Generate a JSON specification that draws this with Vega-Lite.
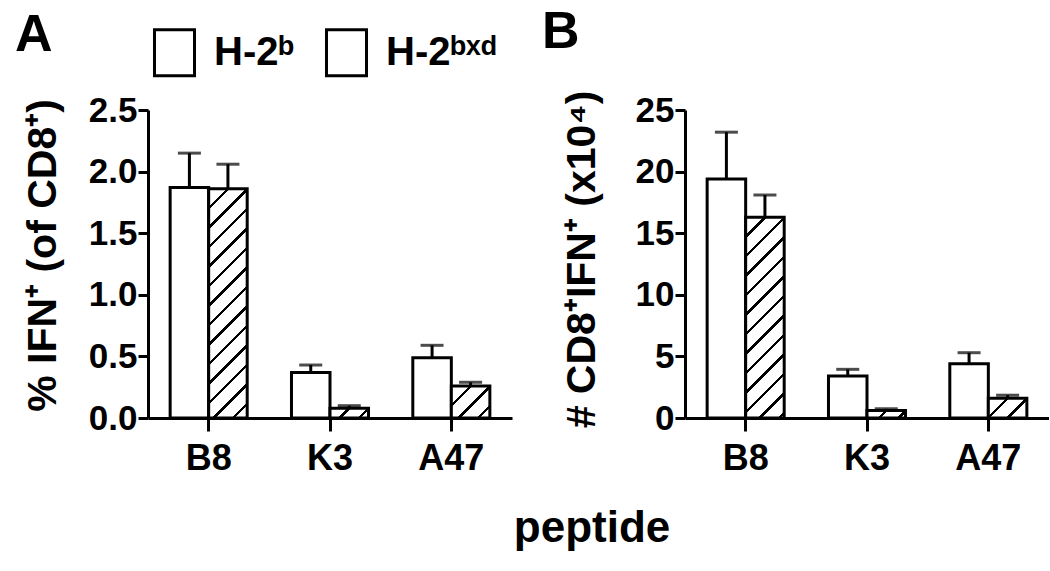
{
  "$schema": "https://vega.github.io/schema/vega-lite/v6.json",
  "background": "white",
  "autosize": {"type": "pad"},
  "padding": {"left": 15, "top": 6, "right": 0, "bottom": 0},
  "datasets": {
    "A": [
      {"peptide": "B8", "strain": "H-2ᵇ", "mean": 1.87, "upper": 2.15},
      {"peptide": "B8", "strain": "H-2ᵇˣᵈ", "mean": 1.86, "upper": 2.06},
      {"peptide": "K3", "strain": "H-2ᵇ", "mean": 0.37, "upper": 0.43},
      {"peptide": "K3", "strain": "H-2ᵇˣᵈ", "mean": 0.08, "upper": 0.1},
      {"peptide": "A47", "strain": "H-2ᵇ", "mean": 0.49, "upper": 0.59},
      {"peptide": "A47", "strain": "H-2ᵇˣᵈ", "mean": 0.26, "upper": 0.29}
    ],
    "B": [
      {"peptide": "B8", "strain": "H-2ᵇ", "mean": 19.4, "upper": 23.2},
      {"peptide": "B8", "strain": "H-2ᵇˣᵈ", "mean": 16.3, "upper": 18.1},
      {"peptide": "K3", "strain": "H-2ᵇ", "mean": 3.4, "upper": 3.95},
      {"peptide": "K3", "strain": "H-2ᵇˣᵈ", "mean": 0.6, "upper": 0.75},
      {"peptide": "A47", "strain": "H-2ᵇ", "mean": 4.4, "upper": 5.3},
      {"peptide": "A47", "strain": "H-2ᵇˣᵈ", "mean": 1.6, "upper": 1.85}
    ]
  },
  "config": {
    "font": "Liberation Sans",
    "view": {"stroke": null},
    "axis": {"domainColor": "black", "domainWidth": 3, "tickColor": "black", "tickWidth": 3, "labelColor": "black", "labelFontWeight": "bold", "labelFont": "Liberation Sans", "titleColor": "black", "titleFontWeight": "bold", "titleFont": "Liberation Sans", "grid": false},
    "axisY": {"tickSize": 10, "labelPadding": 1, "labelFontSize": 35, "titleFontSize": 41},
    "axisX": {"tickSize": 13, "labelPadding": 10, "labelFontSize": 36, "labelAngle": 0},
    "title": {"font": "Liberation Sans", "fontWeight": "bold", "color": "black"}
  },
  "title": {"text": "peptide", "orient": "bottom", "anchor": "middle", "fontSize": 44, "baseline": "top", "offset": 31, "dx": 60},
  "spacing": 30,
  "hconcat": [
    {
      "width": 364,
      "height": 308,
      "title": {"text": "A", "anchor": "start", "frame": "group", "dx": -133, "dy": 14, "fontSize": 52, "baseline": "alphabetic"},
      "data": {"name": "A"},
      "encoding": {
        "x": {"field": "peptide", "type": "nominal", "sort": ["B8", "K3", "A47"], "scale": {"paddingInner": 0.365, "paddingOuter": 0.1825}, "axis": {"title": null}},
        "xOffset": {"field": "strain", "type": "nominal", "sort": ["H-2ᵇ", "H-2ᵇˣᵈ"], "scale": {"paddingInner": 0, "paddingOuter": 0}},
        "y": {"field": "mean", "type": "quantitative", "scale": {"domain": [0, 2.5], "nice": false}, "axis": {"values": [0, 0.5, 1, 1.5, 2, 2.5], "format": ".1f", "titlePadding": 24, "titleY": 145}, "title": "% IFN⁺  (of CD8⁺)"}
      },
      "layer": [
        {
          "mark": {"type": "bar", "strokeWidth": 3},
          "encoding": {
            "fill": {
              "condition": [
                {"test": "datum.strain === 'H-2ᵇˣᵈ' && datum.peptide === 'B8'", "value": {"gradient": "linear", "x1": 0, "y1": 0, "x2": 0.1908, "y2": 1.1359, "stops": [
                  {"offset": 0, "color": "#fff"},
                  {"offset": 0.0663, "color": "#fff"}, {"offset": 0.0663, "color": "#000"}, {"offset": 0.0794, "color": "#000"}, {"offset": 0.0794, "color": "#fff"},
                  {"offset": 0.1391, "color": "#fff"}, {"offset": 0.1391, "color": "#000"}, {"offset": 0.1522, "color": "#000"}, {"offset": 0.1522, "color": "#fff"},
                  {"offset": 0.2120, "color": "#fff"}, {"offset": 0.2120, "color": "#000"}, {"offset": 0.2251, "color": "#000"}, {"offset": 0.2251, "color": "#fff"},
                  {"offset": 0.2848, "color": "#fff"}, {"offset": 0.2848, "color": "#000"}, {"offset": 0.2979, "color": "#000"}, {"offset": 0.2979, "color": "#fff"},
                  {"offset": 0.3577, "color": "#fff"}, {"offset": 0.3577, "color": "#000"}, {"offset": 0.3707, "color": "#000"}, {"offset": 0.3707, "color": "#fff"},
                  {"offset": 0.4305, "color": "#fff"}, {"offset": 0.4305, "color": "#000"}, {"offset": 0.4436, "color": "#000"}, {"offset": 0.4436, "color": "#fff"},
                  {"offset": 0.5033, "color": "#fff"}, {"offset": 0.5033, "color": "#000"}, {"offset": 0.5164, "color": "#000"}, {"offset": 0.5164, "color": "#fff"},
                  {"offset": 0.5762, "color": "#fff"}, {"offset": 0.5762, "color": "#000"}, {"offset": 0.5893, "color": "#000"}, {"offset": 0.5893, "color": "#fff"},
                  {"offset": 0.6490, "color": "#fff"}, {"offset": 0.6490, "color": "#000"}, {"offset": 0.6621, "color": "#000"}, {"offset": 0.6621, "color": "#fff"},
                  {"offset": 0.7219, "color": "#fff"}, {"offset": 0.7219, "color": "#000"}, {"offset": 0.7349, "color": "#000"}, {"offset": 0.7349, "color": "#fff"},
                  {"offset": 0.7947, "color": "#fff"}, {"offset": 0.7947, "color": "#000"}, {"offset": 0.8078, "color": "#000"}, {"offset": 0.8078, "color": "#fff"},
                  {"offset": 0.8675, "color": "#fff"}, {"offset": 0.8675, "color": "#000"}, {"offset": 0.8806, "color": "#000"}, {"offset": 0.8806, "color": "#fff"},
                  {"offset": 0.9404, "color": "#fff"}, {"offset": 0.9404, "color": "#000"}, {"offset": 0.9535, "color": "#000"}, {"offset": 0.9535, "color": "#fff"},
                  {"offset": 1, "color": "#fff"}]}},
                {"test": "datum.strain === 'H-2ᵇˣᵈ' && datum.peptide === 'K3'", "value": {"gradient": "linear", "x1": 0, "y1": 0, "x2": 1.18, "y2": 0.302, "stops": [
                  {"offset": 0, "color": "#fff"},
                  {"offset": 0.367, "color": "#fff"}, {"offset": 0.367, "color": "#000"}, {"offset": 0.439, "color": "#000"}, {"offset": 0.439, "color": "#fff"},
                  {"offset": 0.770, "color": "#fff"}, {"offset": 0.770, "color": "#000"}, {"offset": 0.842, "color": "#000"}, {"offset": 0.842, "color": "#fff"},
                  {"offset": 1, "color": "#fff"}]}},
                {"test": "datum.strain === 'H-2ᵇˣᵈ' && datum.peptide === 'A47'", "value": {"gradient": "linear", "x1": 0, "y1": 0, "x2": 1.083, "y2": 0.9, "stops": [
                  {"offset": 0, "color": "#fff"},
                  {"offset": 0.252, "color": "#fff"}, {"offset": 0.252, "color": "#000"}, {"offset": 0.301, "color": "#000"}, {"offset": 0.301, "color": "#fff"},
                  {"offset": 0.528, "color": "#fff"}, {"offset": 0.528, "color": "#000"}, {"offset": 0.578, "color": "#000"}, {"offset": 0.578, "color": "#fff"},
                  {"offset": 0.805, "color": "#fff"}, {"offset": 0.805, "color": "#000"}, {"offset": 0.855, "color": "#000"}, {"offset": 0.855, "color": "#fff"},
                  {"offset": 1, "color": "#fff"}]}}
              ],
              "value": "white"
            },
            "stroke": {
              "field": "strain", "type": "nominal", "sort": ["H-2ᵇ", "H-2ᵇˣᵈ"], "scale": {"range": ["black", "black"]},
              "legend": {
                "orient": "none", "legendX": 2, "legendY": -82, "direction": "horizontal", "title": null, "padding": 0,
                "symbolType": "M-0.87,-1H0.87V1H-0.87Z", "symbolSize": 2116, "symbolStrokeWidth": 3, "symbolStrokeColor": "black",
                "labelFontSize": 40, "labelFont": "Liberation Sans", "labelFontWeight": "bold", "labelColor": "black", "labelOffset": 15, "columnPadding": 25, "labelLimit": 0,
                "encode": {"symbols": {"update": {
                  "fill": [
                    {"test": "datum.value === 'H-2ᵇˣᵈ'", "value": {"gradient": "linear", "x1": 0, "y1": 0, "x2": 0.926, "y2": 1.065, "stops": [
                      {"offset": 0, "color": "#fff"},
                      {"offset": 0.228, "color": "#fff"}, {"offset": 0.228, "color": "#000"}, {"offset": 0.272, "color": "#000"}, {"offset": 0.272, "color": "#fff"},
                      {"offset": 0.478, "color": "#fff"}, {"offset": 0.478, "color": "#000"}, {"offset": 0.522, "color": "#000"}, {"offset": 0.522, "color": "#fff"},
                      {"offset": 0.728, "color": "#fff"}, {"offset": 0.728, "color": "#000"}, {"offset": 0.772, "color": "#000"}, {"offset": 0.772, "color": "#fff"},
                      {"offset": 1, "color": "#fff"}]}},
                    {"value": "white"}
                  ],
                  "stroke": {"value": "black"},
                  "strokeWidth": {"value": 3},
                  "opacity": {"value": 1}
                }}}
              }
            }
          }
        },
        {
          "mark": {"type": "rule", "strokeWidth": 3, "color": "black"},
          "encoding": {"y2": {"field": "upper"}}
        },
        {
          "mark": {"type": "tick", "thickness": 3, "size": 23, "color": "black", "orient": "horizontal"},
          "encoding": {"y": {"field": "upper", "type": "quantitative", "title": "% IFN⁺  (of CD8⁺)"}}
        }
      ]
    },
    {
      "width": 364,
      "height": 308,
      "title": {"text": "B", "anchor": "start", "frame": "group", "dx": -143, "dy": 14, "fontSize": 52, "baseline": "alphabetic"},
      "data": {"name": "B"},
      "encoding": {
        "x": {"field": "peptide", "type": "nominal", "sort": ["B8", "K3", "A47"], "scale": {"paddingInner": 0.365, "paddingOuter": 0.1825}, "axis": {"title": null}},
        "xOffset": {"field": "strain", "type": "nominal", "sort": ["H-2ᵇ", "H-2ᵇˣᵈ"], "scale": {"paddingInner": 0, "paddingOuter": 0}},
        "y": {"field": "mean", "type": "quantitative", "scale": {"domain": [0, 25], "nice": false}, "axis": {"values": [0, 5, 10, 15, 20, 25], "format": "d", "titlePadding": 32, "titleY": 149}, "title": "# CD8⁺IFN⁺ (x10⁴)"}
      },
      "layer": [
        {
          "mark": {"type": "bar", "strokeWidth": 3, "stroke": "black"},
          "encoding": {
            "fill": {
              "condition": [
                {"test": "datum.strain === 'H-2ᵇˣᵈ' && datum.peptide === 'B8'", "value": {"gradient": "linear", "x1": 0, "y1": 0, "x2": 0.2204, "y2": 1.1494, "stops": [
                  {"offset": 0, "color": "#fff"},
                  {"offset": 0.0742, "color": "#fff"}, {"offset": 0.0742, "color": "#000"}, {"offset": 0.0888, "color": "#000"}, {"offset": 0.0888, "color": "#fff"},
                  {"offset": 0.1557, "color": "#fff"}, {"offset": 0.1557, "color": "#000"}, {"offset": 0.1703, "color": "#000"}, {"offset": 0.1703, "color": "#fff"},
                  {"offset": 0.2372, "color": "#fff"}, {"offset": 0.2372, "color": "#000"}, {"offset": 0.2518, "color": "#000"}, {"offset": 0.2518, "color": "#fff"},
                  {"offset": 0.3187, "color": "#fff"}, {"offset": 0.3187, "color": "#000"}, {"offset": 0.3333, "color": "#000"}, {"offset": 0.3333, "color": "#fff"},
                  {"offset": 0.4002, "color": "#fff"}, {"offset": 0.4002, "color": "#000"}, {"offset": 0.4148, "color": "#000"}, {"offset": 0.4148, "color": "#fff"},
                  {"offset": 0.4816, "color": "#fff"}, {"offset": 0.4816, "color": "#000"}, {"offset": 0.4962, "color": "#000"}, {"offset": 0.4962, "color": "#fff"},
                  {"offset": 0.5631, "color": "#fff"}, {"offset": 0.5631, "color": "#000"}, {"offset": 0.5777, "color": "#000"}, {"offset": 0.5777, "color": "#fff"},
                  {"offset": 0.6446, "color": "#fff"}, {"offset": 0.6446, "color": "#000"}, {"offset": 0.6592, "color": "#000"}, {"offset": 0.6592, "color": "#fff"},
                  {"offset": 0.7261, "color": "#fff"}, {"offset": 0.7261, "color": "#000"}, {"offset": 0.7407, "color": "#000"}, {"offset": 0.7407, "color": "#fff"},
                  {"offset": 0.8076, "color": "#fff"}, {"offset": 0.8076, "color": "#000"}, {"offset": 0.8222, "color": "#000"}, {"offset": 0.8222, "color": "#fff"},
                  {"offset": 0.8891, "color": "#fff"}, {"offset": 0.8891, "color": "#000"}, {"offset": 0.9037, "color": "#000"}, {"offset": 0.9037, "color": "#fff"},
                  {"offset": 0.9706, "color": "#fff"}, {"offset": 0.9706, "color": "#000"}, {"offset": 0.9852, "color": "#000"}, {"offset": 0.9852, "color": "#fff"},
                  {"offset": 1, "color": "#fff"}]}},
                {"test": "datum.strain === 'H-2ᵇˣᵈ' && datum.peptide === 'K3'", "value": {"gradient": "linear", "x1": 0, "y1": 0, "x2": 1.15, "y2": 0.221, "stops": [
                  {"offset": 0, "color": "#fff"},
                  {"offset": 0.387, "color": "#fff"}, {"offset": 0.387, "color": "#000"}, {"offset": 0.463, "color": "#000"}, {"offset": 0.463, "color": "#fff"},
                  {"offset": 0.812, "color": "#fff"}, {"offset": 0.812, "color": "#000"}, {"offset": 0.888, "color": "#000"}, {"offset": 0.888, "color": "#fff"},
                  {"offset": 1, "color": "#fff"}]}},
                {"test": "datum.strain === 'H-2ᵇˣᵈ' && datum.peptide === 'A47'", "value": {"gradient": "linear", "x1": 0, "y1": 0, "x2": 1.198, "y2": 0.613, "stops": [
                  {"offset": 0, "color": "#fff"},
                  {"offset": 0.305, "color": "#fff"}, {"offset": 0.305, "color": "#000"}, {"offset": 0.365, "color": "#000"}, {"offset": 0.365, "color": "#fff"},
                  {"offset": 0.640, "color": "#fff"}, {"offset": 0.640, "color": "#000"}, {"offset": 0.700, "color": "#000"}, {"offset": 0.700, "color": "#fff"},
                  {"offset": 1, "color": "#fff"}]}}
              ],
              "value": "white"
            }
          }
        },
        {
          "mark": {"type": "rule", "strokeWidth": 3, "color": "black"},
          "encoding": {"y2": {"field": "upper"}}
        },
        {
          "mark": {"type": "tick", "thickness": 3, "size": 23, "color": "black", "orient": "horizontal"},
          "encoding": {"y": {"field": "upper", "type": "quantitative", "title": "# CD8⁺IFN⁺ (x10⁴)"}}
        }
      ]
    }
  ]
}
